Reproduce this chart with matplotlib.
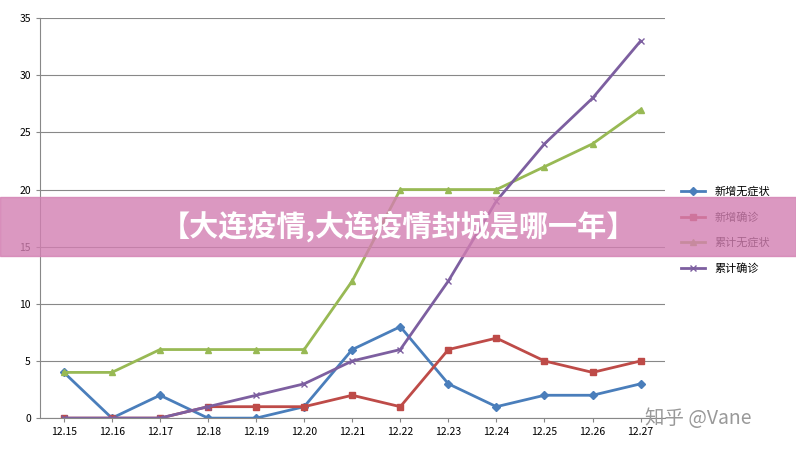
import matplotlib.pyplot as plt

plt.rcParams['font.family'] = ['Noto Sans CJK SC', 'DejaVu Sans']

dates = ['12.15', '12.16', '12.17', '12.18', '12.19', '12.20', '12.21',
         '12.22', '12.23', '12.24', '12.25', '12.26', '12.27']
new_asym = [4, 0, 2, 0, 0, 1, 6, 8, 3, 1, 2, 2, 3]
new_conf = [0, 0, 0, 1, 1, 1, 2, 1, 6, 7, 5, 4, 5]
cum_asym = [4, 4, 6, 6, 6, 6, 12, 20, 20, 20, 22, 24, 27]
cum_conf = [0, 0, 0, 1, 2, 3, 5, 6, 12, 19, 24, 28, 33]

fig = plt.figure(figsize=(7.96, 4.53), dpi=100)
ax = fig.add_axes([0.05, 0.077, 0.785, 0.883])
x = range(len(dates))

ax.plot(x, new_asym, color='#4a7ebb', marker='D', ms=4, lw=2, label='新增无症状')
ax.plot(x, new_conf, color='#be4b48', marker='s', ms=5, lw=2, label='新增确诊')
ax.plot(x, cum_asym, color='#98b954', marker='^', ms=5, lw=2, label='累计无症状')
ax.plot(x, cum_conf, color='#7d5fa0', marker='x', ms=5, lw=2, label='累计确诊')

ax.set_ylim(0, 35)
ax.set_xlim(-0.5, len(dates) - 0.5)
ax.set_yticks(range(0, 36, 5))
ax.set_xticks(list(x))
ax.set_xticklabels(dates)
ax.tick_params(labelsize=7.5, length=3, color='#888888')
ax.grid(axis='y', color='#888888', lw=0.8)
ax.set_axisbelow(True)
for s in ['top', 'right']:
    ax.spines[s].set_visible(False)
for s in ['left', 'bottom']:
    ax.spines[s].set_color('#888888')

leg = ax.legend(loc='center left', bbox_to_anchor=(1.01, 0.47), frameon=False,
                fontsize=8, handlelength=2.2, labelspacing=1.35)
leg.set_zorder(12)

# banner overlay
fig.patches.append(plt.Rectangle((0, 0.435), 1, 0.13, transform=fig.transFigure,
                                 color='#d37fb2', alpha=0.8, zorder=10))
fig.text(0.5, 0.5, '【大连疫情,大连疫情封城是哪一年】', ha='center', va='center',
         color='white', fontsize=21, fontweight='bold', zorder=11)
fig.text(0.81, 0.077, '知乎 @Vane', ha='left', va='center', color='#999999',
         fontsize=14, zorder=11)

fig.savefig('out.png', dpi=100)
